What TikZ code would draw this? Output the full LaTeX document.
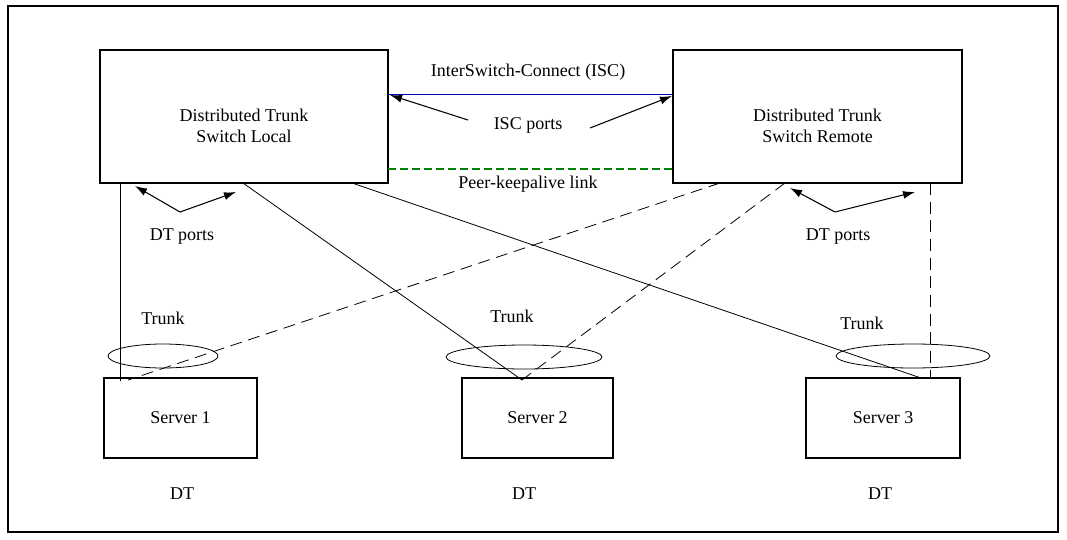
\documentclass[tikz,border=0pt]{standalone}
\usepackage{fontspec}
\setmainfont{Liberation Serif}
\usetikzlibrary{arrows.meta}
\begin{document}
\begin{tikzpicture}[x=0.75pt,y=-0.75pt,
 box/.style={draw,thick,inner sep=0pt},
 lbl/.style={font=\fontsize{13.5pt}{16pt}\selectfont,align=center},
 arr/.style={-{Latex[length=9pt,width=6pt]},thick},
 con/.style={semithick},
 dsh/.style={semithick,dash pattern=on 9pt off 5pt}]
\useasboundingbox (0,0) rectangle (1067,539);
\draw[thick] (8,6) rectangle (1058,532);
\node[box,minimum width=288*0.75pt,minimum height=133*0.75pt] (L) at (244,116.5) {};
\node[lbl] (Lt) at (244,126) {Distributed Trunk\\Switch Local};
\node[box,minimum width=289*0.75pt,minimum height=133*0.75pt] (R) at (817.5,116.5) {};
\node[lbl] (Rt) at (817.5,126) {Distributed Trunk\\Switch Remote};
\node[box,minimum width=153*0.75pt,minimum height=80*0.75pt,lbl] (S1) at (180.5,418) {Server 1};
\node[box,minimum width=151*0.75pt,minimum height=80*0.75pt,lbl] (S2) at (537.5,418) {Server 2};
\node[box,minimum width=154*0.75pt,minimum height=80*0.75pt,lbl] (S3) at (883,418) {Server 3};
\draw[con] (163,356) ellipse [x radius=55, y radius=12];
\draw[con] (524,357) ellipse [x radius=78, y radius=12];
\draw[con] (913,356) ellipse [x radius=77, y radius=12];
\draw[blue!70!black] (388,94) -- (673,94);
\draw[green!50!black,line width=2pt,dash pattern=on 6pt off 3pt] (388,169) -- (673,169);
\draw[con] (120,183) -- (120,381);
\draw[con] (243,183) -- (522,380);
\draw[con] (352,183) -- (921,378);
\draw[dsh] (720,183) -- (128,380);
\draw[dsh] (785,183) -- (522,380);
\draw[dsh] (930,183) -- (930,378);
\coordinate (a1) at (468,120); \coordinate (a2) at (590,128);
\draw[arr] (a1) -- (390,95);
\draw[arr] (a2) -- (672,96);
\coordinate (d1) at (180,212); \coordinate (d2) at (835,212);
\draw[arr] (d1) -- (135,186); \draw[arr] (d1) -- (236,192);
\draw[arr] (d2) -- (790,188); \draw[arr] (d2) -- (915,192);
\node[lbl] (t1) at (528,72) {InterSwitch-Connect (ISC)};
\node[lbl] (t2) at (528,125) {ISC ports};
\node[lbl] (t3) at (528,184) {Peer-keepalive link};
\node[lbl] (t4) at (182,237) {DT ports};
\node[lbl] (t5) at (838,237) {DT ports};
\node[lbl] (t6) at (163,318) {Trunk};
\node[lbl] (t7) at (512,316) {Trunk};
\node[lbl] (t8) at (862,323) {Trunk};
\node[lbl] (t9) at (182,494) {DT};
\node[lbl] (t10) at (524,494) {DT};
\node[lbl] (t11) at (880,494) {DT};
\end{tikzpicture}
\end{document}
